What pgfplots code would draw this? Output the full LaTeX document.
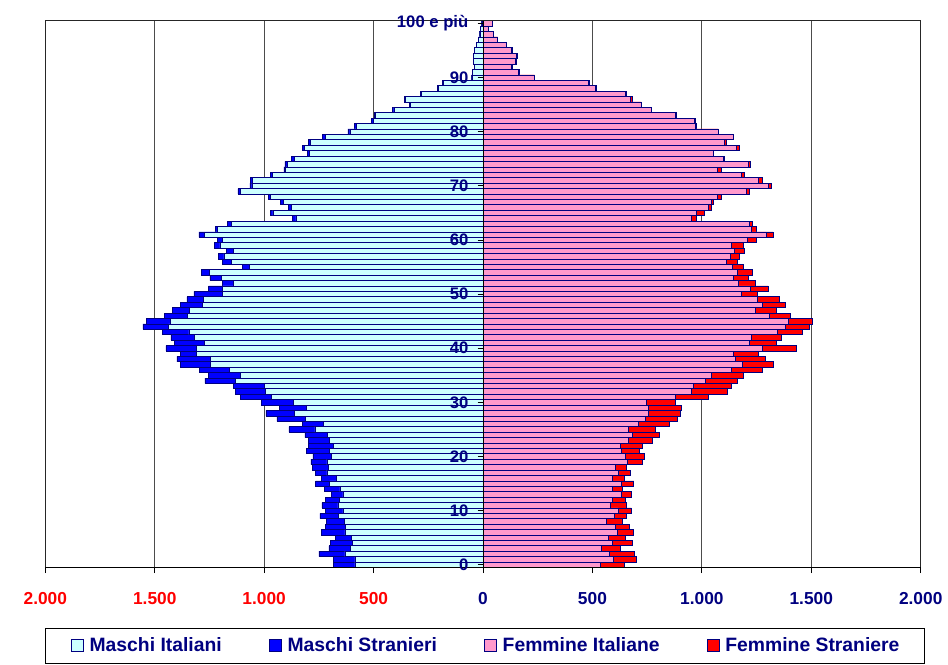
\documentclass[border=0pt]{standalone}
\usepackage{fontspec}
\setmainfont{Liberation Sans}
\usepackage{pgfplots}
\usepackage{pgfplotstable}
\pgfplotsset{compat=1.18}
\definecolor{navy}{HTML}{000080}
\definecolor{mital}{HTML}{CCFFFF}
\definecolor{mstra}{HTML}{0000FF}
\definecolor{fital}{HTML}{FF99CC}
\definecolor{fstra}{HTML}{FF0000}
\pgfplotsset{layers/gridbehind/.define layer set={axis background,axis grid,pre main,main,axis ticks,axis lines,axis tick labels,axis descriptions,axis foreground}{
    grid style={/pgfplots/on layer=axis grid},
    tick style={/pgfplots/on layer=axis ticks},
    axis line style={/pgfplots/on layer=axis lines},
    label style={/pgfplots/on layer=axis descriptions},
    legend style={/pgfplots/on layer=axis descriptions},
    title style={/pgfplots/on layer=axis descriptions},
    ticklabel style={/pgfplots/on layer=axis tick labels},
}}

% age, maschi italiani, maschi stranieri, femmine italiane, femmine straniere
\pgfplotstableread{
age mi ms fi fs
0 585 98 534 112
1 585 98 596 106
2 631 119 579 111
3 605 99 539 90
4 596 102 589 95
5 600 75 573 76
6 631 107 615 74
7 628 94 606 61
8 634 82 562 76
9 661 84 600 57
10 640 82 617 61
11 663 73 583 74
12 655 67 589 61
13 640 53 632 46
14 654 71 589 49
15 701 64 631 58
16 668 70 589 57
17 713 52 618 55
18 707 73 606 49
19 713 73 661 69
20 692 85 652 87
21 701 107 634 82
22 684 115 629 101
23 701 98 663 110
24 710 104 684 122
25 768 119 663 126
26 730 96 709 143
27 811 131 741 145
28 861 131 757 144
29 808 123 757 150
30 867 146 748 133
31 968 141 881 148
32 994 138 954 164
33 997 144 959 177
34 1131 140 1015 149
35 1108 145 1043 148
36 1158 139 1133 142
37 1245 139 1186 139
38 1245 154 1154 138
39 1308 74 1144 114
40 1309 140 1277 155
41 1273 138 1215 127
42 1318 108 1225 139
43 1344 122 1344 114
44 1436 118 1380 112
45 1430 109 1394 109
46 1352 102 1310 93
47 1341 79 1243 98
48 1283 99 1275 105
49 1279 74 1252 101
50 1190 131 1182 70
51 1190 64 1222 81
52 1140 49 1165 78
53 1195 53 1145 69
54 1250 38 1164 67
55 1067 33 1138 50
56 1151 41 1110 51
57 1184 26 1132 41
58 1140 32 1148 45
59 1202 25 1136 52
60 1190 25 1209 39
61 1273 25 1295 30
62 1212 9 1226 22
63 1151 15 1216 15
64 855 15 953 21
65 960 11 976 33
66 875 13 1029 12
67 911 16 1041 11
68 972 9 1069 18
69 1109 11 1203 12
70 1056 9 1304 12
71 1052 12 1260 15
72 962 9 1179 14
73 901 9 1070 17
74 895 10 1212 10
75 861 15 1096 6
76 792 10 1051 3
77 815 9 1157 13
78 788 11 1102 8
79 722 10 1142 2
80 608 9 1073 2
81 579 8 970 6
82 501 8 964 4
83 491 7 881 2
84 407 6 767 2
85 332 5 722 2
86 354 4 675 6
87 280 5 652 2
88 204 5 513 6
89 181 5 479 5
90 51 2 234 2
91 48 1 162 5
92 39 1 128 4
93 43 1 149 1
94 43 1 154 1
95 39 1 131 1
96 29 1 107 1
97 20 1 67 0
98 14 1 47 0
99 10 1 26 0
100 5 1 41 0
}\pyr

\begin{document}
\begin{tikzpicture}
\path (0,0) rectangle (711pt,498pt);
\begin{axis}[
  set layers=gridbehind,
  at={(33.98pt,72.2pt)}, anchor=south west,
  scale only axis, width=656.55pt, height=410.25pt,
  xmin=-2000, xmax=2000, ymin=-0.55, ymax=100.5,
  axis x line=bottom, axis y line=center,
  axis line style={-, black, line width=0.75pt},
  hide obscured x ticks=false, hide obscured y ticks=false,
  xtick={-2000,-1500,-1000,-500,0,500,1000,1500,2000},
  xticklabels={\textcolor{fstra}{2.000},\textcolor{fstra}{1.500},\textcolor{fstra}{1.000},\textcolor{fstra}{500},0,500,1.000,1.500,2.000},
  ytick={0,10,20,30,40,50,60,70,80,90,100},
  yticklabels={0,10,20,30,40,50,60,70,80,90,100 e più},
  tick align=outside, major tick length=4pt,
  tick style={black, line width=0.6pt},
  xmajorgrids, grid style={black!70, line width=0.6pt},
  xticklabel style={font=\fontsize{13}{15}\selectfont\bfseries, text=navy, yshift=-11pt},
  yticklabel style={font=\fontsize{12.5}{15}\selectfont\bfseries, text=navy, xshift=-3.5pt},
  legend columns=4,
  legend image code/.code={\draw[#1, line width=0.6pt] (0pt,-4.5pt) rectangle (9pt,4.5pt);},
  legend style={at={(0,0)}, anchor=north west, yshift=-45.2pt,
    draw=black, line width=0.8pt, inner xsep=18.75pt, inner ysep=7pt,
    font=\fontsize{14.5}{17}\selectfont\bfseries, text=navy,
    nodes={inner sep=0pt},
    /tikz/every even column/.append style={column sep=35.25pt},
    /tikz/every odd column/.append style={column sep=4.5pt}},
  extra description/.code={\draw[black!85, line width=0.75pt] (0,0) rectangle (1,1);},
]
\addlegendimage{fill=mital, draw=navy}
\addlegendentry{Maschi Italiani}
\addlegendimage{fill=mstra, draw=navy}
\addlegendentry{Maschi Stranieri}
\addlegendimage{fill=fital, draw=navy}
\addlegendentry{Femmine Italiane}
\addlegendimage{fill=fstra, draw=navy}
\addlegendentry{Femmine Straniere}

\addplot[xbar, bar width=1, bar shift=0pt, fill=mstra, draw=navy, line width=0.5pt, forget plot]
  table[x expr=-(\thisrow{mi}+\thisrow{ms}), y=age]{\pyr};
\addplot[xbar, bar width=1, bar shift=0pt, fill=mital, draw=navy, line width=0.5pt, forget plot]
  table[x expr=-\thisrow{mi}, y=age]{\pyr};
\addplot[xbar, bar width=1, bar shift=0pt, fill=fstra, draw=navy, line width=0.5pt, forget plot]
  table[x expr=\thisrow{fi}+\thisrow{fs}, y=age]{\pyr};
\addplot[xbar, bar width=1, bar shift=0pt, fill=fital, draw=navy, line width=0.5pt, forget plot]
  table[x=fi, y=age]{\pyr};
\end{axis}
\end{tikzpicture}
\end{document}
